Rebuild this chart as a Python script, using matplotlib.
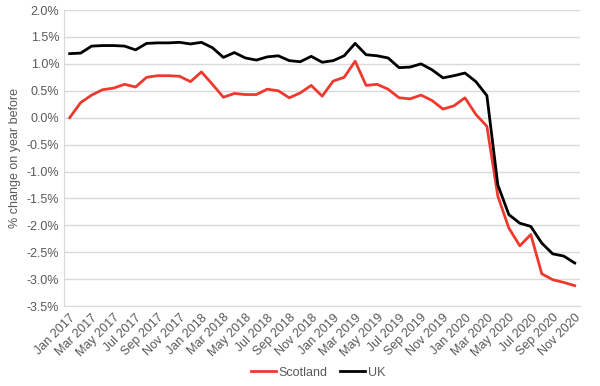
import numpy as np
import matplotlib
matplotlib.use("Agg")
import matplotlib.pyplot as plt
from matplotlib.ticker import FuncFormatter

plt.rcParams["font.family"] = ["Liberation Sans", "DejaVu Sans"]

# monthly data, Jan 2017 - Nov 2020
months = ["Jan", "Feb", "Mar", "Apr", "May", "Jun",
          "Jul", "Aug", "Sep", "Oct", "Nov", "Dec"]
labels = [f"{m} {y}" for y in range(2017, 2021) for m in months][:47]

scotland = [0.00, 0.28, 0.42, 0.52, 0.55, 0.62, 0.57, 0.75, 0.78, 0.78, 0.77, 0.67,
            0.85, 0.62, 0.38, 0.45, 0.43, 0.43, 0.53, 0.50, 0.37, 0.46, 0.60, 0.40,
            0.68, 0.75, 1.05, 0.60, 0.62, 0.53, 0.37, 0.35, 0.42, 0.32, 0.16, 0.22,
            0.37, 0.06, -0.16, -1.46, -2.05, -2.38, -2.17, -2.90, -3.01, -3.06, -3.12]
uk = [1.19, 1.20, 1.33, 1.34, 1.34, 1.33, 1.26, 1.38, 1.39, 1.39, 1.40, 1.37,
      1.40, 1.30, 1.12, 1.21, 1.11, 1.07, 1.13, 1.15, 1.06, 1.04, 1.14, 1.03,
      1.06, 1.15, 1.38, 1.17, 1.15, 1.11, 0.93, 0.94, 1.00, 0.89, 0.74, 0.78,
      0.83, 0.67, 0.41, -1.25, -1.80, -1.96, -2.02, -2.33, -2.53, -2.57, -2.70]

grey = "#595959"
x = np.arange(len(labels))

fig = plt.figure(figsize=(6, 3.86), dpi=100)
ax = fig.add_axes([0.107, 0.207, 0.860, 0.767])

ax.plot(x, scotland, color="#EE3A2E", linewidth=2, label="Scotland")
ax.plot(x, uk, color="black", linewidth=2, label="UK")

ax.set_xlim(-0.5, len(labels) - 0.5)
ax.set_ylim(-3.5, 2.0)
ax.set_yticks(np.arange(-3.5, 2.01, 0.5))
ax.yaxis.set_major_formatter(FuncFormatter(lambda v, p: f"{v:.1f}%"))
ax.set_xticks(x[::2])
ax.set_xticklabels(labels[::2], rotation=45, ha="right", rotation_mode="anchor")

ax.grid(axis="y", color="#d9d9d9", linewidth=1)
ax.set_axisbelow(True)
for s in ["top", "right"]:
    ax.spines[s].set_visible(False)
for s in ["left", "bottom"]:
    ax.spines[s].set_color("#d9d9d9")
ax.tick_params(axis="both", length=0, colors=grey, labelsize=9)
ax.tick_params(axis="x", pad=4)
ax.set_ylabel("% change on year before", color=grey, fontsize=9)

fig.legend(loc="lower center", ncol=2, frameon=False, fontsize=9,
           bbox_to_anchor=(0.53, -0.01), handlelength=2, handletextpad=0.2,
           columnspacing=1.0, labelcolor=grey)

fig.savefig("out.png", dpi=100)
